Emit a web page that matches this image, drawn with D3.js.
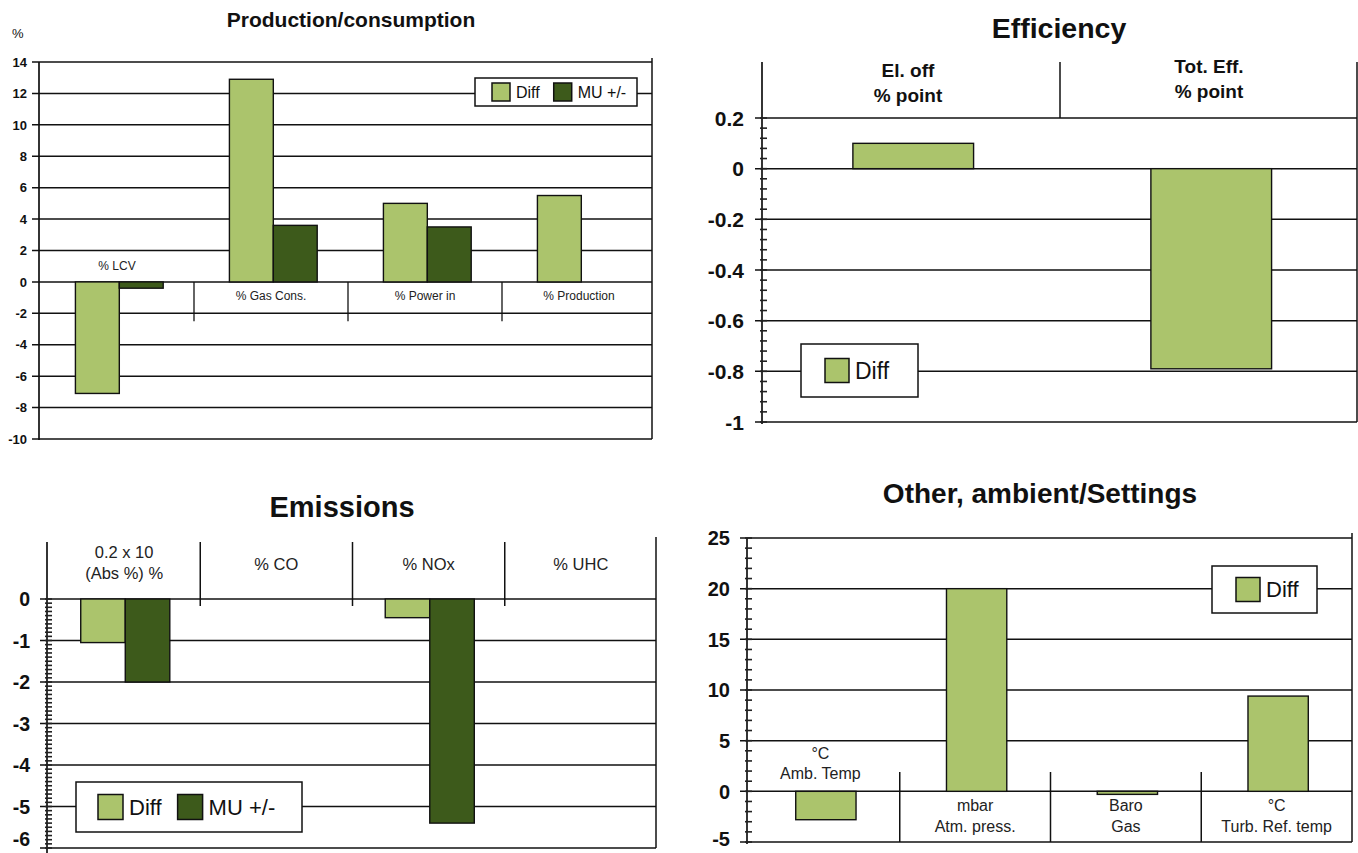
<!DOCTYPE html>
<html>
<head>
<meta charset="utf-8">
<script src="https://cdn.jsdelivr.net/npm/d3@7/dist/d3.min.js"></script>
<style>
  html, body { margin: 0; padding: 0; background: #ffffff; }
  svg { display: block; font-family: "Liberation Sans", Arial, Helvetica, sans-serif; }
</style>
</head>
<body>
<svg id="chart" width="1358" height="853"></svg>
<script>
// ---------------- DATA ----------------
const seriesNames = ["Diff", "MU +/-"];

const prodTitle = "Production/consumption";
const prodCategories = ["% LCV", "% Gas Cons.", "% Power in", "% Production"];
const prodDiff = [-7.1, 12.9, 5.0, 5.5];
const prodMU = [-0.4, 3.6, 3.5, null];
const prodTicks = [14, 12, 10, 8, 6, 4, 2, 0, -2, -4, -6, -8, -10];

const effTitle = "Efficiency";
const effCategories = [["El. off", "% point"], ["Tot. Eff.", "% point"]];
const effDiff = [0.1, -0.79];
const effTicks = [0.2, 0, -0.2, -0.4, -0.6, -0.8, -1];

const emTitle = "Emissions";
const emCategories = [["0.2 x 10", "(Abs %) %"], ["% CO"], ["% NOx"], ["% UHC"]];
const emDiff = [-1.05, null, -0.45, null];
const emMU = [-2.0, null, -5.4, null];
const emTicks = [0, -1, -2, -3, -4, -5, -6];

const othTitle = "Other, ambient/Settings";
const othCategories = [["°C", "Amb. Temp"], ["mbar", "Atm. press."], ["Baro", "Gas"], ["°C", "Turb. Ref. temp"]];
const othDiff = [-2.8, 20, -0.3, 9.4];
const othTicks = [25, 20, 15, 10, 5, 0, -5];

// ---------------- STYLE ----------------
const colDiff = "#abc46c";
const colMU = "#3d5a1b";
const svg = d3.select("#chart");

function gridAndAxis(g, y, ticks, xAxis, xRight, axisTop, axisBottom, opt) {
  g.selectAll(null).data(ticks).enter().append("line")
    .attr("x1", xAxis - 7).attr("x2", xRight)
    .attr("y1", d => y(d)).attr("y2", d => y(d))
    .attr("stroke", "#111").attr("stroke-width", 1.5);
  g.append("line").attr("x1", xAxis).attr("x2", xAxis)
    .attr("y1", axisTop).attr("y2", axisBottom)
    .attr("stroke", "#111").attr("stroke-width", 1.7);
  g.append("line").attr("x1", xRight).attr("x2", xRight)
    .attr("y1", opt.rightTop).attr("y2", y(ticks[ticks.length - 1]))
    .attr("stroke", "#111").attr("stroke-width", 1.5);
  if (opt.minor) {
    const [lo, hi] = d3.extent(ticks);
    const n = Math.round((hi - lo) / opt.minor);
    const minors = d3.range(n + 1).map(i => lo + i * opt.minor);
    g.selectAll(null).data(minors).enter().append("line")
      .attr("x1", xAxis - 2).attr("x2", xAxis + 5)
      .attr("y1", d => y(d)).attr("y2", d => y(d))
      .attr("stroke", "#222").attr("stroke-width", 1.6);
  }
  g.selectAll(null).data(ticks).enter().append("text")
    .attr("x", xAxis - opt.labelGap)
    .attr("y", d => Math.min(y(d) + 0.36 * opt.tickSize, 846))
    .attr("text-anchor", "end")
    .attr("font-size", opt.tickSize).attr("font-weight", "bold")
    .attr("fill", "#111").text(d => String(d));
}

function drawBars(g, x, y, categories, series, innerRange) {
  const x1 = d3.scaleBand().domain(series.map(s => s.name))
    .range([x.bandwidth() * innerRange[0], x.bandwidth() * innerRange[1]]);
  series.forEach(s => {
    categories.forEach((c, i) => {
      const v = s.values[i];
      if (v === null || v === undefined) return;
      g.append("rect")
        .attr("x", x(c) + x1(s.name))
        .attr("width", x1.bandwidth())
        .attr("y", y(Math.max(0, v)))
        .attr("height", Math.abs(y(v) - y(0)))
        .attr("fill", s.color).attr("stroke", "#111").attr("stroke-width", 1.4);
    });
  });
}

function legend(g, items, x, y, w, h, sw, fs, gap) {
  g.append("rect").attr("x", x).attr("y", y).attr("width", w).attr("height", h)
    .attr("fill", "#fff").attr("stroke", "#111").attr("stroke-width", 1.5);
  let cx = x + items[0].pad;
  items.forEach(it => {
    g.append("rect").attr("x", cx).attr("y", y + h / 2 - sw / 2)
      .attr("width", sw).attr("height", sw)
      .attr("fill", it.color).attr("stroke", "#111").attr("stroke-width", 1.5);
    const t = g.append("text").attr("x", cx + sw + 6).attr("y", y + h / 2)
      .attr("dy", "0.36em").attr("font-size", fs).attr("fill", "#111").text(it.name);
    cx += sw + 6 + t.node().getComputedTextLength() + gap;
  });
}

function catKey(c) { return Array.isArray(c) ? c.join(" ") : c; }

// ================= Chart 1: Production/consumption =================
{
  const g = svg.append("g");
  const y = d3.scaleLinear().domain([-10, 14]).range([439, 62]);
  const x = d3.scaleBand().domain(prodCategories).range([40, 656]);
  gridAndAxis(g, y, prodTicks, 39, 652, 62, 440,
    { rightTop: 58, labelGap: 12, tickSize: 13, minor: null });
  g.append("text").attr("x", 351).attr("y", 27).attr("text-anchor", "middle")
    .attr("font-size", 21).attr("font-weight", "bold").attr("fill", "#111").text(prodTitle);
  g.append("text").attr("x", 12).attr("y", 38).attr("font-size", 13).attr("fill", "#111").text("%");
  g.selectAll(null).data(prodCategories.slice(1)).enter().append("line")
    .attr("x1", d => x(d)).attr("x2", d => x(d))
    .attr("y1", y(0)).attr("y2", y(-2.5))
    .attr("stroke", "#111").attr("stroke-width", 1.3);
  drawBars(g, x, y, prodCategories, [
    { name: seriesNames[0], values: prodDiff, color: colDiff },
    { name: seriesNames[1], values: prodMU, color: colMU }
  ], [0.23, 0.80]);
  g.selectAll(null).data(prodCategories).enter().append("text")
    .attr("x", d => x(d) + x.bandwidth() / 2)
    .attr("y", (d, i) => prodDiff[i] < 0 ? y(0) - 12 : y(0) + 18)
    .attr("text-anchor", "middle").attr("font-size", 12).attr("fill", "#222").text(d => d);
  legend(g, [{ name: "Diff", color: colDiff, pad: 17 }, { name: "MU +/-", color: colMU }],
    475, 78, 162, 28, 18, 16, 14);
}

// ================= Chart 2: Efficiency =================
{
  const g = svg.append("g");
  const y = d3.scaleLinear().domain([-1, 0.2]).range([422, 118]);
  const keys = effCategories.map(catKey);
  const x = d3.scaleBand().domain(keys).range([762, 1358]);
  gridAndAxis(g, y, effTicks, 762, 1357, 62, 424,
    { rightTop: 62, labelGap: 18, tickSize: 21, minor: 0.04 });
  g.append("text").attr("x", 1059).attr("y", 38).attr("text-anchor", "middle")
    .attr("font-size", 28.5).attr("font-weight", "bold").attr("fill", "#111").text(effTitle);
  g.append("line").attr("x1", x(keys[1])).attr("x2", x(keys[1]))
    .attr("y1", 62).attr("y2", y(0.2)).attr("stroke", "#111").attr("stroke-width", 1.5);
  effCategories.forEach((c, i) => {
    c.forEach((line, j) => {
      g.append("text").attr("x", x(keys[i]) + x.bandwidth() / 2 + (i === 0 ? -3 : 0))
        .attr("y", 77 + j * 25 - (i === 1 ? 4 : 0))
        .attr("text-anchor", "middle").attr("font-size", 19).attr("font-weight", "bold")
        .attr("fill", "#111").text(line);
    });
  });
  drawBars(g, x, y, keys, [{ name: seriesNames[0], values: effDiff, color: colDiff }], [0.305, 0.71]);
  legend(g, [{ name: "Diff", color: colDiff, pad: 24 }], 801, 344, 117, 53, 24, 23, 10);
}

// ================= Chart 3: Emissions =================
{
  const g = svg.append("g");
  const y = d3.scaleLinear().domain([-6, 0]).range([848, 599]);
  const keys = emCategories.map(catKey);
  const x = d3.scaleBand().domain(keys).range([48, 657]);
  gridAndAxis(g, y, emTicks, 47, 656, 542, 853,
    { rightTop: 537, labelGap: 17, tickSize: 19.5, minor: 0.1 });
  g.append("text").attr("x", 342).attr("y", 517).attr("text-anchor", "middle")
    .attr("font-size", 29).attr("font-weight", "bold").attr("fill", "#111").text(emTitle);
  g.selectAll(null).data(keys.slice(1)).enter().append("line")
    .attr("x1", d => x(d)).attr("x2", d => x(d))
    .attr("y1", 542).attr("y2", 606).attr("stroke", "#111").attr("stroke-width", 1.5);
  emCategories.forEach((c, i) => {
    c.forEach((line, j) => {
      g.append("text").attr("x", x(keys[i]) + x.bandwidth() / 2)
        .attr("y", c.length > 1 ? 558 + j * 21 : 570)
        .attr("text-anchor", "middle").attr("font-size", 16.5).attr("fill", "#222").text(line);
    });
  });
  drawBars(g, x, y, keys, [
    { name: seriesNames[0], values: emDiff, color: colDiff },
    { name: seriesNames[1], values: emMU, color: colMU }
  ], [0.215, 0.80]);
  legend(g, [{ name: "Diff", color: colDiff, pad: 22 }, { name: "MU +/-", color: colMU }],
    76, 782, 226, 50, 25, 22, 16);
}

// ================= Chart 4: Other, ambient/Settings =================
{
  const g = svg.append("g");
  const y = d3.scaleLinear().domain([-5, 25]).range([842, 538]);
  const keys = othCategories.map(catKey);
  const x = d3.scaleBand().domain(keys).range([749, 1352]);
  gridAndAxis(g, y, othTicks, 747, 1352, 538, 844,
    { rightTop: 533, labelGap: 17, tickSize: 20, minor: 1 });
  g.append("text").attr("x", 1040).attr("y", 503).attr("text-anchor", "middle")
    .attr("font-size", 28).attr("font-weight", "bold").attr("fill", "#111").text(othTitle);
  g.selectAll(null).data(keys.slice(1)).enter().append("line")
    .attr("x1", d => x(d)).attr("x2", d => x(d))
    .attr("y1", 772).attr("y2", 842).attr("stroke", "#111").attr("stroke-width", 1.5);
  drawBars(g, x, y, keys, [{ name: seriesNames[0], values: othDiff, color: colDiff }], [0.31, 0.71]);
  othCategories.forEach((c, i) => {
    c.forEach((line, j) => {
      const above = othDiff[i] < 0 && i === 0;
      g.append("text").attr("x", x(keys[i]) + x.bandwidth() / 2 - (i === 0 ? 4 : 0))
        .attr("y", above ? 759 + j * 20 : 811 + j * 21)
        .attr("text-anchor", "middle").attr("font-size", 16).attr("fill", "#222").text(line);
    });
  });
  legend(g, [{ name: "Diff", color: colDiff, pad: 24 }], 1212, 566, 105, 47, 24, 22, 10);
}
</script>
</body>
</html>
